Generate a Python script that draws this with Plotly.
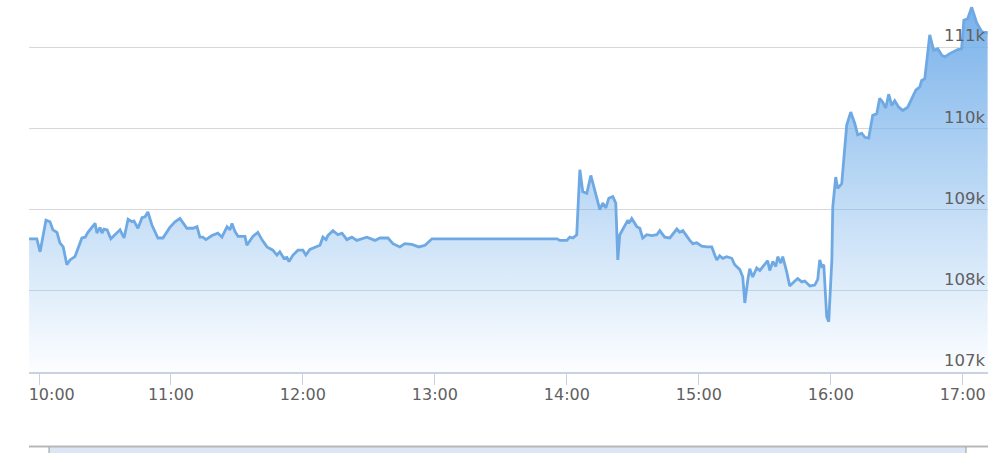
import plotly.graph_objects as go

DAY = "2024-05-20"

times = [
    "09:55:30", "09:59:00", "10:00:30", "10:03:10", "10:05:00", "10:06:20", "10:08:10", "10:09:30",
    "10:11:00", "10:12:40", "10:14:05", "10:16:20", "10:19:30", "10:21:00", "10:22:15", "10:25:30",
    "10:26:20", "10:27:45", "10:28:40", "10:29:30", "10:31:00", "10:32:40", "10:36:50", "10:38:40",
    "10:40:30", "10:42:15", "10:43:10", "10:45:00", "10:46:50", "10:48:10", "10:49:30", "10:51:20",
    "10:54:05", "10:56:20", "10:59:30", "11:01:50", "11:04:05", "11:05:30", "11:07:15", "11:10:00",
    "11:11:50", "11:13:10", "11:14:30", "11:15:55", "11:18:40", "11:21:20", "11:23:10", "11:25:30",
    "11:26:50", "11:27:45", "11:29:05", "11:30:30", "11:33:40", "11:34:30", "11:37:15", "11:39:30",
    "11:41:20", "11:43:40", "11:46:20", "11:48:10", "11:49:30", "11:51:20", "11:52:45", "11:53:40",
    "11:55:30", "11:57:45", "12:00:00", "12:01:20", "12:03:10", "12:07:45", "12:09:05", "12:10:30",
    "12:11:20", "12:13:40", "12:15:55", "12:17:45", "12:20:00", "12:22:15", "12:24:30", "12:29:05",
    "12:32:45", "12:35:00", "12:38:40", "12:40:55", "12:44:05", "12:46:20", "12:49:30", "12:52:45",
    "12:55:30", "12:58:40", "13:55:30", "13:56:50", "14:00:00", "14:01:20", "14:02:45", "14:04:30",
    "14:05:55", "14:07:15", "14:09:05", "14:10:55", "14:12:45", "14:15:00", "14:16:20", "14:17:45",
    "14:19:05", "14:20:55", "14:22:15", "14:23:10", "14:24:05", "14:26:20", "14:27:45", "14:28:10",
    "14:29:30", "14:31:50", "14:33:10", "14:34:30", "14:36:20", "14:38:40", "14:40:55", "14:42:15",
    "14:44:30", "14:46:50", "14:50:00", "14:51:20", "14:52:45", "14:55:55", "14:57:15", "14:59:05",
    "15:01:20", "15:03:40", "15:05:55", "15:07:15", "15:08:10", "15:09:30", "15:10:55", "15:12:40",
    "15:15:00", "15:16:20", "15:18:40", "15:20:00", "15:20:55", "15:22:15", "15:23:10", "15:24:30",
    "15:26:20", "15:27:45", "15:30:00", "15:31:20", "15:32:15", "15:33:40", "15:35:00", "15:35:55",
    "15:37:15", "15:38:10", "15:40:00", "15:41:20", "15:43:40", "15:45:00", "15:46:50", "15:48:10",
    "15:50:30", "15:52:45", "15:54:05", "15:55:00", "15:55:55", "15:56:50", "15:58:10", "15:59:05",
    "16:00:30", "16:00:55", "16:02:15", "16:03:10", "16:05:00", "16:05:55", "16:07:15", "16:09:05",
    "16:10:55", "16:12:15", "16:14:05", "16:15:30", "16:17:15", "16:19:05", "16:20:55", "16:22:15",
    "16:23:40", "16:25:00", "16:26:20", "16:27:45", "16:29:05", "16:30:55", "16:32:45", "16:35:00",
    "16:36:50", "16:38:40", "16:40:30", "16:41:20", "16:42:45", "16:44:05", "16:45:00", "16:46:50",
    "16:48:40", "16:50:30", "16:51:50", "16:54:05", "16:56:20", "16:57:45", "16:59:30", "17:00:30",
    "17:02:15", "17:04:05", "17:06:20", "17:08:40", "17:10:00", "17:11:20",
]

prices = [
    108640, 108640, 108480, 108870, 108850, 108750, 108720, 108590,
    108540, 108320, 108380, 108420, 108650, 108660, 108720, 108830,
    108710, 108780, 108710, 108760, 108750, 108640, 108750, 108650,
    108880, 108850, 108860, 108770, 108900, 108910, 108970, 108810,
    108650, 108650, 108780, 108850, 108890, 108840, 108770, 108770,
    108790, 108660, 108660, 108630, 108680, 108710, 108660, 108790,
    108750, 108830, 108730, 108670, 108670, 108560, 108670, 108720,
    108630, 108540, 108500, 108440, 108480, 108400, 108410, 108360,
    108440, 108500, 108500, 108440, 108510, 108560, 108660, 108630,
    108680, 108740, 108690, 108710, 108630, 108660, 108620, 108660,
    108620, 108650, 108650, 108580, 108540, 108580, 108570, 108540,
    108560, 108640, 108640, 108620, 108620, 108660, 108650, 108690,
    109490, 109220, 109200, 109420, 109220, 109000, 109080, 109020,
    109140, 109160, 109080, 108380, 108690, 108810, 108870, 108830,
    108890, 108790, 108770, 108650, 108690, 108680, 108690, 108740,
    108660, 108650, 108760, 108720, 108740, 108620, 108580, 108590,
    108550, 108540, 108540, 108440, 108380, 108430, 108400, 108420,
    108400, 108320, 108260, 108170, 107850, 108130, 108270, 108170,
    108280, 108250, 108320, 108370, 108250, 108360, 108300, 108420,
    108340, 108420, 108230, 108060, 108120, 108150, 108110, 108120,
    108060, 108070, 108140, 108380, 108300, 108320, 107680, 107620,
    108380, 109030, 109400, 109260, 109320, 109650, 110040, 110200,
    110060, 109920, 109940, 109890, 109880, 110160, 110180, 110370,
    110320, 110250, 110420, 110280, 110340, 110260, 110220, 110260,
    110370, 110470, 110510, 110590, 110610, 110920, 111150, 110960,
    110980, 110900, 110880, 110920, 110950, 110970, 110980, 111330,
    111350, 111490, 111300, 111190, 111180, 111180,
]

y_ticks = [107000, 108000, 109000, 110000, 111000]
x_tick_labels = ["10:00", "11:00", "12:00", "13:00", "14:00", "15:00", "16:00", "17:00"]
x_start = "09:55:27"
x_end = "17:11:30"

x = [f"{DAY} {t}" for t in times]
x_tickvals = [f"{DAY} {t}:00" for t in x_tick_labels]
# first label is nudged right (kept inside the chart edge, as in the source)
x_ticktext = ["\u2007\u2007\u00a0" + x_tick_labels[0]] + x_tick_labels[1:]

LINE = "#6fa9e4"
FONT = "DejaVu Sans"

fig = go.Figure()
fig.add_trace(go.Scatter(
    x=x, y=prices, mode="lines",
    line=dict(color=LINE, width=2.8),
    fill="tozeroy",
    fillgradient=dict(
        type="vertical",
        start=y_ticks[0], stop=111580,
        colorscale=[[0, "rgba(124,181,236,0.02)"], [1, "rgba(118,176,234,1.0)"]],
    ),
    hoverinfo="skip",
    showlegend=False,
))

fig.update_layout(
    width=1000, height=453,
    margin=dict(l=29, r=12, t=0, b=81),
    paper_bgcolor="white", plot_bgcolor="white",
    font=dict(family=FONT, size=16, color="#606060"),
    xaxis=dict(
        type="date",
        range=[f"{DAY} {x_start}", f"{DAY} {x_end}"],
        tickvals=x_tickvals, ticktext=x_ticktext,
        showgrid=False, zeroline=False,
        showline=True, linecolor="#c8d2e0", linewidth=1.5,
        ticks="outside", ticklen=11, tickcolor="#c8d2e0", tickwidth=1,
        tickfont=dict(family=FONT, size=16, color="#606060"),
        ticklabeloverflow="allow",
        ticklabelstandoff=-4,
        automargin=False,
        fixedrange=True,
    ),
    yaxis=dict(
        range=[y_ticks[0], 111580],
        tickvals=y_ticks, tickformat="~s",
        side="right", ticklabelposition="inside top",
        showgrid=True, gridcolor="#d8d8d8", gridwidth=1,
        zeroline=False, showline=False, ticks="",
        tickfont=dict(family=FONT, size=16.5, color="#606060"),
        ticklabeloverflow="allow",
        automargin=False,
        fixedrange=True,
    ),
)

# navigator strip at the bottom (partly visible)
def px_x(px):
    return (px - 29) / 959.0

def px_y(py):
    return (372 - py) / 372.0

fig.add_shape(type="rect", xref="paper", yref="paper",
              x0=px_x(49), x1=px_x(966), y0=px_y(453), y1=px_y(447),
              fillcolor="#dbe7f5", line=dict(width=0), layer="above")
fig.add_shape(type="line", xref="paper", yref="paper",
              x0=px_x(29), x1=px_x(988), y0=px_y(446.5), y1=px_y(446.5),
              line=dict(color="#b8b8b8", width=2), layer="above")
for hx in (49, 966):
    fig.add_shape(type="line", xref="paper", yref="paper",
                  x0=px_x(hx), x1=px_x(hx), y0=px_y(453), y1=px_y(447),
                  line=dict(color="#9a9a9a", width=1), layer="above")

fig.write_html(
    "out.html",
    config={"displayModeBar": False},
    post_script="document.body.style.margin='0';document.body.style.overflow='hidden';",
)
